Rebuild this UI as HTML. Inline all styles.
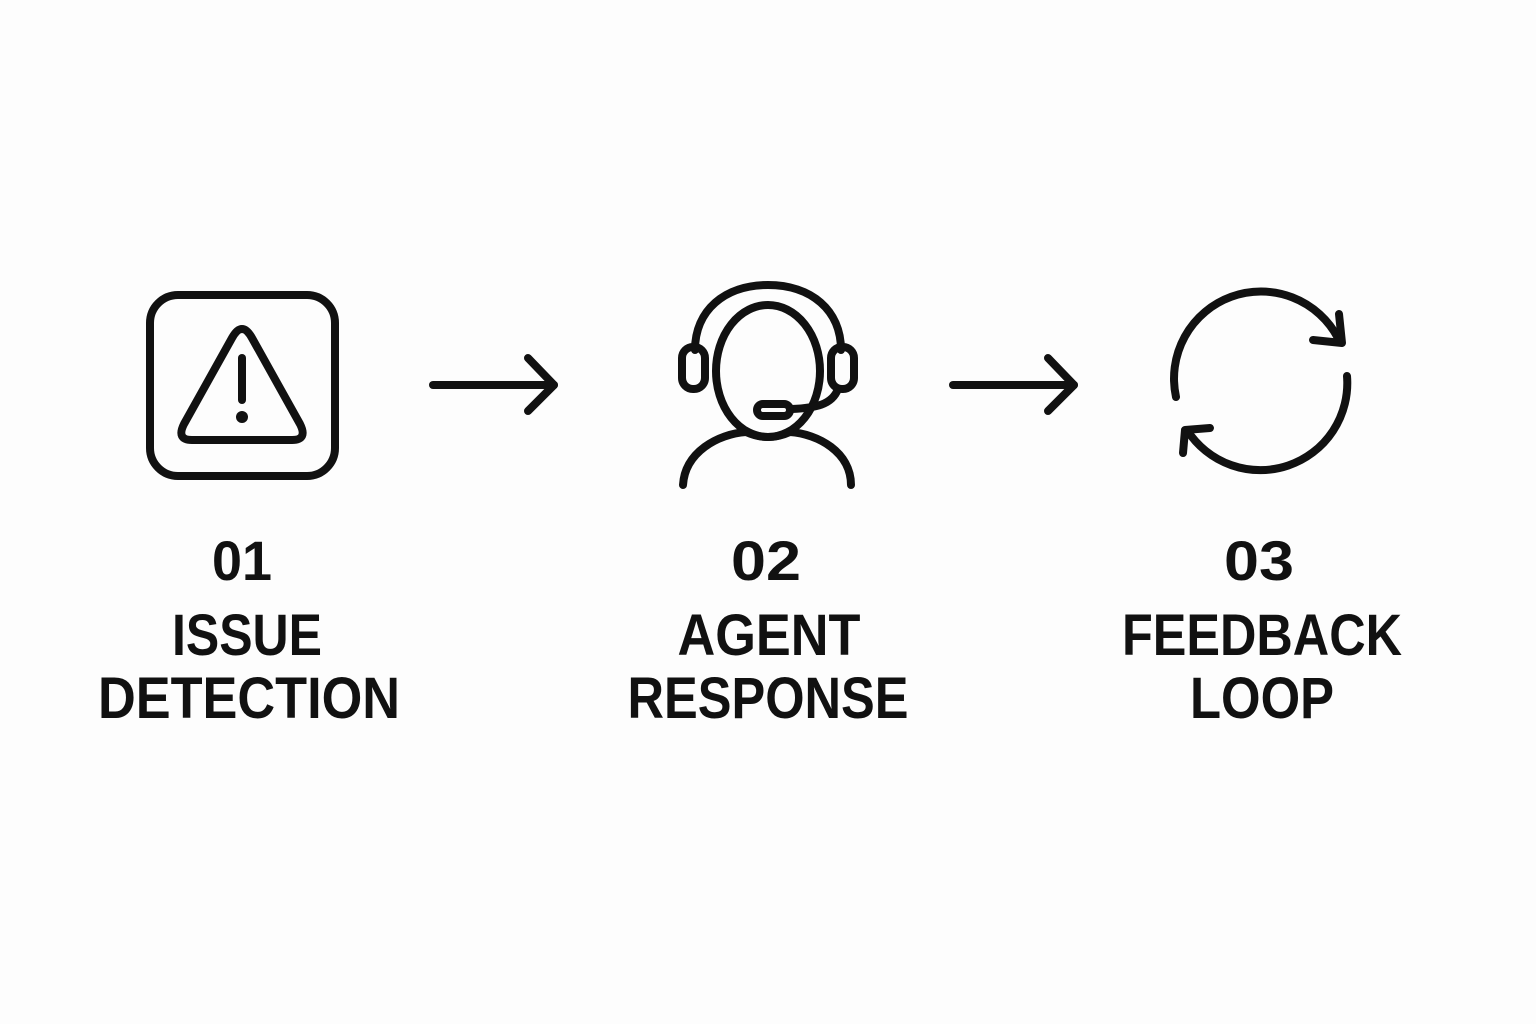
<!DOCTYPE html>
<html><head><meta charset="utf-8"><style>
html,body{margin:0;padding:0;background:#fdfdfd;}
svg{display:block}
text{font-family:"Liberation Sans",sans-serif;font-weight:bold;fill:#111;text-anchor:middle}
</style></head><body>
<svg width="1536" height="1024" viewBox="0 0 1536 1024" xmlns="http://www.w3.org/2000/svg">
<rect width="1536" height="1024" fill="#fdfdfd"/>
<g fill="none" stroke="#111" stroke-width="8" stroke-linecap="round" stroke-linejoin="round">
<rect x="150" y="295" width="185" height="181" rx="28"/>
<path d="M232,338 Q242,320 252,338 L300,424 Q308,440 292,440 L192,440 Q176,440 184,424 Z"/>
<line x1="242" y1="358" x2="242" y2="400"/>
<line x1="433" y1="385" x2="554" y2="385"/>
<polyline points="528,358 554,385 528,411"/>
<line x1="953" y1="385" x2="1074" y2="385"/>
<polyline points="1048,358 1074,385 1048,411"/>
<ellipse cx="768" cy="371" rx="52" ry="66"/>
<path d="M695,350 C695,310 725,285 768,285 C811,285 841,310 841,350"/>
<rect x="682" y="347" width="23" height="42" rx="11"/>
<rect x="831" y="347" width="23" height="42" rx="11"/>
<path d="M838,389 C832,405 815,408 792,409"/>
<rect x="757" y="404" width="33" height="12" rx="6"/>
<path d="M683,485 C685,452 718,434 746,432 M790,432 C818,434 851,452 851,485"/>
<path d="M746,432 Q768,442 790,432"/>
<path d="M1176,397 A87,87 0 0 1 1338,338"/>
<polyline points="1339,314 1342,343 1313,340"/>
<path d="M1347,376 A87,87 0 0 1 1187,430"/>
<polyline points="1183,453 1185,430 1210,428"/>
</g>
<circle cx="242" cy="417" r="6" fill="#111"/>
<text x="242" y="580" font-size="56" textLength="60" lengthAdjust="spacingAndGlyphs">01</text>
<text x="247" y="655" font-size="58" textLength="150" lengthAdjust="spacingAndGlyphs">ISSUE</text>
<text x="249" y="718" font-size="58" textLength="302" lengthAdjust="spacingAndGlyphs">DETECTION</text>
<text x="766" y="580" font-size="56" textLength="70" lengthAdjust="spacingAndGlyphs">02</text>
<text x="769" y="655" font-size="58" textLength="183" lengthAdjust="spacingAndGlyphs">AGENT</text>
<text x="768" y="718" font-size="58" textLength="281" lengthAdjust="spacingAndGlyphs">RESPONSE</text>
<text x="1259" y="580" font-size="56" textLength="70" lengthAdjust="spacingAndGlyphs">03</text>
<text x="1262" y="655" font-size="58" textLength="280" lengthAdjust="spacingAndGlyphs">FEEDBACK</text>
<text x="1262" y="718" font-size="58" textLength="144" lengthAdjust="spacingAndGlyphs">LOOP</text>
</svg>
</body></html>
